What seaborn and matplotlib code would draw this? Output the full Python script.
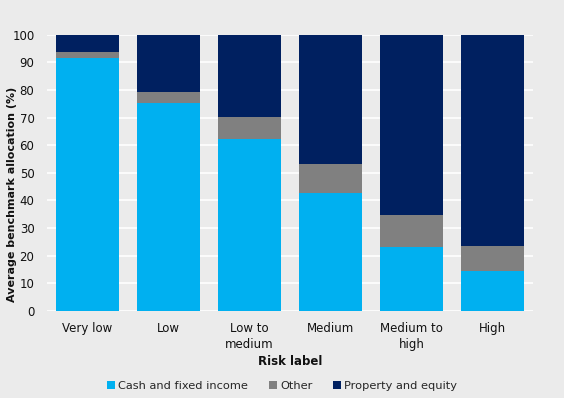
import matplotlib
matplotlib.use("Agg")
import matplotlib.pyplot as plt
import seaborn as sns
import pandas as pd
import numpy as np
from matplotlib.patches import Patch

categories = ["Very low", "Low", "Low to\nmedium", "Medium", "Medium to\nhigh", "High"]
cash = [91.7, 75.2, 62.2, 42.7, 23.2, 14.5]
other = [2.0, 4.2, 8.0, 10.5, 11.5, 9.0]
property_equity = [6.3, 20.6, 29.8, 46.8, 65.3, 76.5]

series_names = ["Cash and fixed income", "Other", "Property and equity"]
colors = ["#00B0F0", "#808080", "#002060"]

cash_arr = np.array(cash)
other_top = cash_arr + np.array(other)
total_top = other_top + np.array(property_equity)

df = pd.DataFrame({"cat": categories, "cash": cash_arr, "other_top": other_top, "total": total_top})

sns.set_theme(style="white")
plt.rcParams['font.family'] = ['DejaVu Sans']
bg = "#EBEBEB"
fig = plt.figure(figsize=(5.64, 3.98), dpi=100, facecolor=bg)
ax = fig.add_axes([0.0833, 0.2186, 0.8617, 0.6942])
ax.set_facecolor(bg)

w = 0.78
sns.barplot(data=df, x="cat", y="total", color=colors[2], width=w, ax=ax, saturation=1, zorder=3)
sns.barplot(data=df, x="cat", y="other_top", color=colors[1], width=w, ax=ax, saturation=1, zorder=3)
sns.barplot(data=df, x="cat", y="cash", color=colors[0], width=w, ax=ax, saturation=1, zorder=3)
for p in ax.patches:
    p.set_linewidth(0)

ax.set_ylim(0, 100)
ax.set_xlim(-0.5, 5.5)
ax.set_yticks(range(0, 101, 10))
ax.yaxis.grid(True, color="white", linewidth=1.2, zorder=0)
ax.set_axisbelow(True)
for s in ax.spines.values():
    s.set_visible(False)
ax.tick_params(axis="both", length=0, labelsize=8.5, colors="#111111")
ax.tick_params(axis="x", pad=8)
ax.tick_params(axis="y", pad=9)
for lbl in ax.get_xticklabels():
    lbl.set_linespacing(1.25)
ax.set_xlabel("Risk label", fontsize=8.5, fontweight="bold", color="#111111")
ax.xaxis.set_label_coords(0.5, -0.16)
ax.set_ylabel("Average benchmark allocation (%)", fontsize=8, fontweight="bold", color="#111111")
ax.yaxis.set_label_coords(-0.062, 0.423)

handles = [Patch(facecolor=c, edgecolor="none") for c in colors]
fig.legend(handles, series_names, loc="center", bbox_to_anchor=(0.5, 0.03), ncol=3, frameon=False,
           fontsize=8.2, handlelength=0.7, handleheight=0.7, handletextpad=0.3, columnspacing=1.8)

fig.savefig("out.png", dpi=100, facecolor=bg)
